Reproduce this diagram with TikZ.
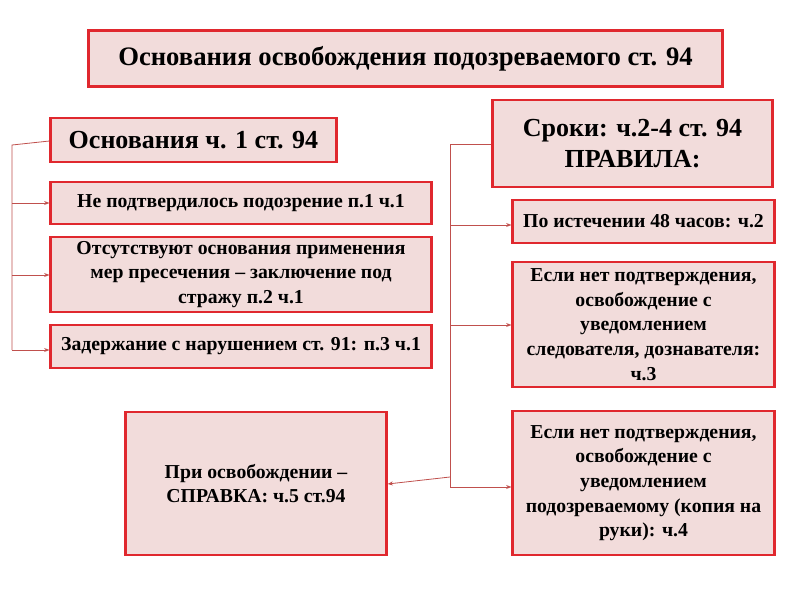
\documentclass[tikz,border=0pt]{standalone}
\usepackage{fontspec}
\setmainfont{Liberation Serif}
\usetikzlibrary{arrows.meta}
\definecolor{bx}{HTML}{F2DCDB}
\definecolor{rd}{HTML}{E0282E}
\definecolor{ln}{HTML}{C0504D}
\tikzset{
 box/.style={draw=rd,line width=1.6pt,fill=bx,align=center,font=\bfseries\fontsize{14.8}{18.5}\selectfont,inner sep=2pt},
 con/.style={draw=ln,line width=0.6pt},
 arr/.style={con,-{Stealth[length=4pt]}}
}
\begin{document}
\begin{tikzpicture}[x=0.75pt,y=-0.75pt]
\useasboundingbox (0,0) rectangle (800,600);
\fill[white] (0,0) rectangle (800,600);
\node[box,minimum width=634*0.75pt,minimum height=56*0.75pt,font=\bfseries\fontsize{20}{24}\selectfont] (t) at (405.5,58.5) {Основания освобождения подозреваемого ст. 94};
\node[box,minimum width=286*0.75pt,minimum height=44*0.75pt,font=\bfseries\fontsize{19.5}{23}\selectfont] (lh) at (193.5,140) {Основания ч. 1 ст. 94};
\node[box,minimum width=381*0.75pt,minimum height=42*0.75pt] (l1) at (241,203) {Не подтвердилось подозрение п.1 ч.1};
\node[box,minimum width=381*0.75pt,minimum height=75*0.75pt] (l2) at (241,274.5) {Отсутствуют основания применения\\мер пресечения – заключение под\\стражу п.2 ч.1};
\node[box,minimum width=381*0.75pt,minimum height=43*0.75pt] (l3) at (241,346.5) {Задержание с нарушением ст. 91: п.3 ч.1};
\node[box,minimum width=280*0.75pt,minimum height=87*0.75pt,font=\bfseries\fontsize{19.5}{23}\selectfont] (rh) at (632.5,143.5) {Сроки: ч.2-4 ст. 94\\ПРАВИЛА:};
\node[box,minimum width=262*0.75pt,minimum height=43*0.75pt] (r1) at (643.5,221.5) {По истечении 48 часов: ч.2};
\node[box,minimum width=262*0.75pt,minimum height=125*0.75pt] (r2) at (643.5,324.5) {Если нет подтверждения,\\освобождение с\\уведомлением\\следователя, дознавателя:\\ч.3};
\node[box,minimum width=262*0.75pt,minimum height=144*0.75pt] (r3) at (643.5,483) {Если нет подтверждения,\\освобождение с\\уведомлением\\подозреваемому (копия на\\руки): ч.4};
\node[box,minimum width=261*0.75pt,minimum height=143*0.75pt] (c) at (256,483.5) {При освобождении –\\СПРАВКА: ч.5 ст.94};
\coordinate (lt) at (12,145);
\coordinate (lb) at (12,350);
\draw[con] (lh.west|-0,141) -- (lt) -- (lb);
\draw[arr] (12,203) -- (l1.west|-0,203);
\draw[arr] (12,275) -- (l2.west|-0,275);
\draw[arr] (lb) -- (l3.west|-0,350);
\coordinate (rt) at (450,144);
\coordinate (rb) at (450,487);
\draw[con] (rh.west|-0,144) -- (rt) -- (rb);
\draw[arr] (450,225) -- (r1.west|-0,225);
\draw[arr] (450,325) -- (r2.west|-0,325);
\draw[arr] (rb) -- (r3.west|-0,487);
\draw[arr] (450,477) -- (c.east|-0,484);
\end{tikzpicture}
\end{document}
